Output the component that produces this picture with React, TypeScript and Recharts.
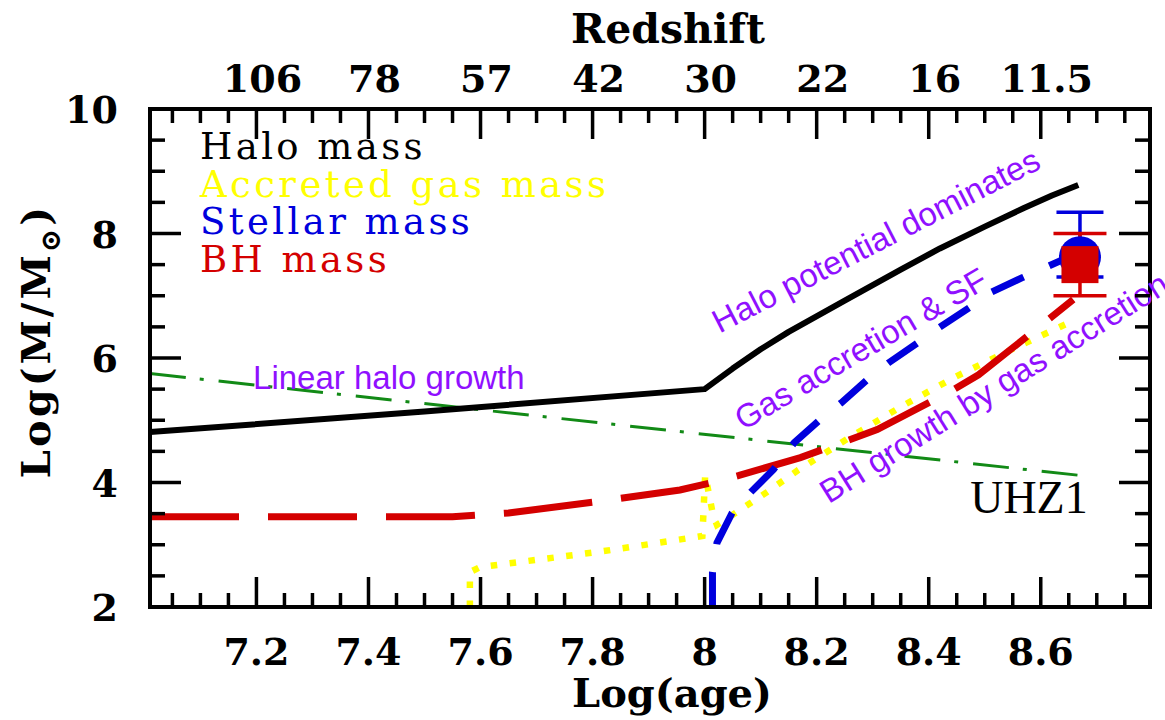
import React from 'react';
import { ComposedChart, Line, Scatter, XAxis, YAxis, ErrorBar, Legend } from 'recharts';

// ---- axes ----
const AGE_DOMAIN: [number, number] = [7.01, 8.795];
const MASS_DOMAIN: [number, number] = [2, 10];
const ageMajorTicks = [7.2, 7.4, 7.6, 7.8, 8.0, 8.2, 8.4, 8.6];
const ageTickLabels = ['7.2', '7.4', '7.6', '7.8', '8', '8.2', '8.4', '8.6'];
const redshiftLabels = ['106', '78', '57', '42', '30', '22', '16', '11.5'];
const massMajorTicks = [2, 4, 6, 8, 10];
const massTickLabels = ['2', '4', '6', '8', '10'];

// minor ticks every 0.05 in log(age) and every 0.5 in log(M)
const ageTicks = Array.from({ length: 35 }, (_, i) => +(7.05 + i * 0.05).toFixed(2));
const massTicks = Array.from({ length: 17 }, (_, i) => 2 + i * 0.5);

// ---- model tracks: log(age) and log(M/Msun) ----
const haloAge = [7.01, 7.5, 8.0, 8.05, 8.1, 8.15, 8.25, 8.35, 8.42, 8.5, 8.57, 8.62, 8.667];
const haloMass = [4.81, 5.14, 5.5, 5.83, 6.14, 6.42, 6.92, 7.42, 7.76, 8.11, 8.41, 8.61, 8.78];

const linearAge = [7.01, 8.674];
const linearMass = [5.75, 4.11];

const gasAge = [7.581, 7.581, 7.599, 7.814, 7.996, 8.001, 8.015, 8.022, 8.055, 8.112, 8.167, 8.26, 8.353, 8.448, 8.546, 8.644];
const gasMass = [2.0, 2.56, 2.64, 2.89, 3.14, 4.12, 3.48, 3.32, 3.51, 3.85, 4.2, 4.73, 5.23, 5.7, 6.13, 6.54];

const starAge = [8.014, 8.014, 8.022, 8.049, 8.083, 8.123, 8.16, 8.206, 8.244, 8.29, 8.328, 8.381, 8.419, 8.473, 8.51, 8.567, 8.612, 8.667];
const starMass = [2.0, 2.56, 3.03, 3.51, 3.85, 4.21, 4.64, 5.01, 5.28, 5.65, 5.92, 6.25, 6.49, 6.81, 7.05, 7.29, 7.47, 7.69];

const bhAge = [7.01, 7.55, 7.65, 7.806, 7.956, 8.014, 8.06, 8.171, 8.26, 8.308, 8.444, 8.489, 8.614, 8.658];
const bhMass = [3.45, 3.45, 3.51, 3.69, 3.88, 4.0, 4.11, 4.4, 4.69, 4.85, 5.49, 5.73, 6.62, 6.94];

// ---- UHZ1 measurements ----
const uhz1Age = 8.67;
const uhz1StellarMass = 7.62;
const uhz1StellarErr: [number, number] = [0.32, 0.72];
const uhz1BhMass = 7.5;
const uhz1BhErr: [number, number] = [0.5, 0.5];

// ---- legend ----
const legendLabels = ['Halo mass', 'Accreted gas mass', 'Stellar mass', 'BH mass'];

const C_HALO = '#000000';
const C_GAS = '#ffff00';
const C_STAR = '#0000dd';
const C_BH = '#d40000';
const C_LIN = '#128a16';
const C_NOTE = '#9010ff';
const legendColors = [C_HALO, C_GAS, C_STAR, C_BH];

const toPoints = (xs: number[], ys: number[]) => xs.map((x, i) => ({ x, y: ys[i] }));

const haloData = toPoints(haloAge, haloMass);
const linearData = toPoints(linearAge, linearMass);
const gasData = toPoints(gasAge, gasMass);
const starData = toPoints(starAge, starMass);
const bhData = toPoints(bhAge, bhMass);
const stellarObs = [{ x: uhz1Age, y: uhz1StellarMass, err: uhz1StellarErr }];
const bhObs = [{ x: uhz1Age, y: uhz1BhMass, err: uhz1BhErr }];

// text annotations placed in data coordinates
const noteText = ['Linear halo growth', 'Halo potential dominates', 'Gas accretion & SF', 'BH growth by gas accretion'];
const noteAge = [7.194, 8.315, 8.289, 8.527];
const noteMass = [5.51, 7.725, 5.99, 5.37];
const noteAngle = [0, 27.2, 30.4, 32];
const noteData = noteText.map((text, i) => ({ x: noteAge[i], y: noteMass[i], text, angle: noteAngle[i] }));
const tagData = [{ x: 8.474, y: 3.51, text: 'UHZ1' }];

const SERIF = '"DejaVu Serif", "Liberation Serif", serif';
const SANS = '"Liberation Sans", Arial, sans-serif';
const tickFont = { fontFamily: SERIF, fontWeight: 700, fontSize: 38, fill: '#000' } as const;

const isMajorAge = (v: number) => Math.abs(v * 5 - Math.round(v * 5)) < 1e-6;
const isMajorMass = (v: number) => Math.abs(v / 2 - Math.round(v / 2)) < 1e-6;
const ageIndex = (v: number) => ageMajorTicks.findIndex((t) => Math.abs(t - v) < 1e-6);
const massIndex = (v: number) => massMajorTicks.findIndex((t) => Math.abs(t - v) < 1e-6);

const TICK_W = 3.5;

const BottomTick = (p: any) => {
  const { x, y, payload } = p;
  const v = payload.value;
  const major = isMajorAge(v);
  const i = ageIndex(v);
  return (
    <g>
      <line x1={x} y1={y} x2={x} y2={y - (major ? 30 : 14)} stroke="#000" strokeWidth={TICK_W} />
      {major && i >= 0 && (
        <text x={x} y={y + 58} textAnchor="middle" style={tickFont}>{ageTickLabels[i]}</text>
      )}
    </g>
  );
};

const TopTick = (p: any) => {
  const { x, y, payload } = p;
  const v = payload.value;
  const major = isMajorAge(v);
  const i = ageIndex(v);
  return (
    <g>
      <line x1={x} y1={y} x2={x} y2={y + (major ? 30 : 14)} stroke="#000" strokeWidth={TICK_W} />
      {major && i >= 0 && (
        <text x={x + 6} y={y - 17} textAnchor="middle" style={tickFont}>{redshiftLabels[i]}</text>
      )}
    </g>
  );
};

const LeftTick = (p: any) => {
  const { x, y, payload } = p;
  const v = payload.value;
  const major = isMajorMass(v);
  const i = massIndex(v);
  return (
    <g>
      <line x1={x} y1={y} x2={x + (major ? 31 : 15)} y2={y} stroke="#000" strokeWidth={TICK_W} />
      {major && i >= 0 && (
        <text x={x - 32} y={y + 14} textAnchor="end" style={tickFont}>{massTickLabels[i]}</text>
      )}
    </g>
  );
};

const RightTick = (p: any) => {
  const { x, y, payload } = p;
  const major = isMajorMass(payload.value);
  return <line x1={x} y1={y} x2={x - (major ? 31 : 15)} y2={y} stroke="#000" strokeWidth={TICK_W} />;
};

const NoteShape = (p: any) => {
  const { cx, cy, payload } = p;
  if (cx == null || cy == null) return null;
  return (
    <text
      x={cx}
      y={cy}
      textAnchor={payload.angle === 0 ? 'start' : 'middle'}
      transform={`rotate(${-payload.angle} ${cx} ${cy})`}
      style={{ fontFamily: SANS, fontSize: 33, fill: C_NOTE }}
    >
      {payload.text}
    </text>
  );
};

const TagShape = (p: any) => {
  const { cx, cy, payload } = p;
  if (cx == null || cy == null) return null;
  return (
    <text x={cx} y={cy} style={{ fontFamily: '"Liberation Serif", serif', fontSize: 46, fill: '#000' }}>
      {payload.text}
    </text>
  );
};

const StarDot = (p: any) => <circle cx={p.cx} cy={p.cy} r={21} fill={C_STAR} />;
const BhSquare = (p: any) => <rect x={p.cx - 18.5} y={p.cy - 18.5} width={37} height={37} fill={C_BH} />;

const LegendBox = () => (
  <div style={{ fontFamily: SERIF, fontSize: 37, lineHeight: '37.5px', letterSpacing: 3.4, whiteSpace: 'nowrap' }}>
    {legendLabels.map((label, i) => (
      <div key={label} style={{ color: legendColors[i] }}>{label}</div>
    ))}
  </div>
);

const axisLine = { stroke: '#000', strokeWidth: 4, strokeLinecap: 'square' as const };

export default function App() {
  return (
    <div style={{ position: 'absolute', left: 0, top: 0, width: 1165, height: 720, background: '#fff' }}>
      <ComposedChart width={1165} height={720} margin={{ top: 0, right: 0, bottom: 0, left: 0 }}>
        <XAxis
          xAxisId="bottom"
          type="number"
          dataKey="x"
          domain={AGE_DOMAIN}
          ticks={ageTicks}
          interval={0}
          height={113}
          tickSize={0}
          tickMargin={0}
          tickLine={false}
          axisLine={axisLine}
          tick={<BottomTick />}
          label={{
            content: (props: any) => {
              const vb = props.viewBox;
              return (
                <text x={vb.x + vb.width / 2 + 22} y={vb.y + 100} textAnchor="middle" style={{ fontFamily: SERIF, fontWeight: 700, fontSize: 40 }}>
                  Log(age)
                </text>
              );
            },
          }}
        />
        <XAxis
          xAxisId="top"
          orientation="top"
          type="number"
          dataKey="x"
          domain={AGE_DOMAIN}
          ticks={ageTicks}
          interval={0}
          height={109}
          tickSize={0}
          tickMargin={0}
          tickLine={false}
          axisLine={axisLine}
          tick={<TopTick />}
          label={{
            content: (props: any) => {
              const vb = props.viewBox;
              return (
                <text x={vb.x + vb.width / 2 + 18} y={vb.y + 43} textAnchor="middle" style={{ fontFamily: SERIF, fontWeight: 700, fontSize: 41 }}>
                  Redshift
                </text>
              );
            },
          }}
        />
        <YAxis
          yAxisId="left"
          type="number"
          domain={MASS_DOMAIN}
          ticks={massTicks}
          interval={0}
          width={150}
          tickSize={0}
          tickMargin={0}
          tickLine={false}
          axisLine={axisLine}
          tick={<LeftTick />}
          label={{
            content: (props: any) => {
              const vb = props.viewBox;
              const cx = 50;
              const cy = vb.y + vb.height / 2 - 17;
              return (
                <text
                  x={cx}
                  y={cy}
                  textAnchor="middle"
                  transform={`rotate(-90 ${cx} ${cy})`}
                  style={{ fontFamily: SERIF, fontWeight: 700, fontSize: 40, letterSpacing: 3 }}
                >
                  Log(M/M
                  <tspan dy={10} fontSize={28}>⊙</tspan>
                  <tspan dy={-10}>)</tspan>
                </text>
              );
            },
          }}
        />
        <YAxis
          yAxisId="right"
          orientation="right"
          type="number"
          domain={MASS_DOMAIN}
          ticks={massTicks}
          interval={0}
          width={15}
          tickSize={0}
          tickMargin={0}
          tickLine={false}
          axisLine={axisLine}
          tick={<RightTick />}
        />

        <Legend
          layout="vertical"
          align="center"
          verticalAlign="middle"
          content={<LegendBox />}
          wrapperStyle={{ left: 200, top: 128, width: 520, height: 160 }}
        />

        {/* UHZ1 points with error bars */}
        <Scatter xAxisId="bottom" yAxisId="left" data={stellarObs} dataKey="y" shape={<StarDot />} isAnimationActive={false} legendType="none">
          <ErrorBar dataKey="err" direction="y" width={23.5} stroke={C_STAR} strokeWidth={3.5} isAnimationActive={false} />
        </Scatter>
        <Scatter xAxisId="bottom" yAxisId="left" data={bhObs} dataKey="y" shape={<BhSquare />} isAnimationActive={false} legendType="none">
          <ErrorBar dataKey="err" direction="y" width={26.5} stroke={C_BH} strokeWidth={3.5} isAnimationActive={false} />
        </Scatter>

        {/* model tracks */}
        <Line xAxisId="bottom" yAxisId="left" data={linearData} dataKey="y" type="linear" stroke={C_LIN} strokeWidth={3} strokeDasharray="36 14 4 15" dot={false} activeDot={false} isAnimationActive={false} legendType="none" />
        <Line xAxisId="bottom" yAxisId="left" data={haloData} dataKey="y" type="linear" stroke={C_HALO} strokeWidth={6} strokeLinejoin="round" dot={false} activeDot={false} isAnimationActive={false} legendType="none" />
        <Line xAxisId="bottom" yAxisId="left" data={gasData} dataKey="y" type="linear" stroke={C_GAS} strokeWidth={6.5} strokeDasharray="6.5 12.5" dot={false} activeDot={false} isAnimationActive={false} legendType="none" />
        <Line xAxisId="bottom" yAxisId="left" data={bhData} dataKey="y" type="linear" stroke={C_BH} strokeWidth={7} strokeDasharray="89 29" dot={false} activeDot={false} isAnimationActive={false} legendType="none" />
        <Line xAxisId="bottom" yAxisId="left" data={starData} dataKey="y" type="linear" stroke={C_STAR} strokeWidth={7} strokeDasharray="35 28" dot={false} activeDot={false} isAnimationActive={false} legendType="none" />

        {/* labels, on the top/right axes (same scales as bottom/left) */}
        <Scatter xAxisId="top" yAxisId="right" data={noteData} dataKey="y" shape={<NoteShape />} isAnimationActive={false} legendType="none" />
        <Scatter xAxisId="top" yAxisId="right" data={tagData} dataKey="y" shape={<TagShape />} isAnimationActive={false} legendType="none" />
      </ComposedChart>
    </div>
  );
}
